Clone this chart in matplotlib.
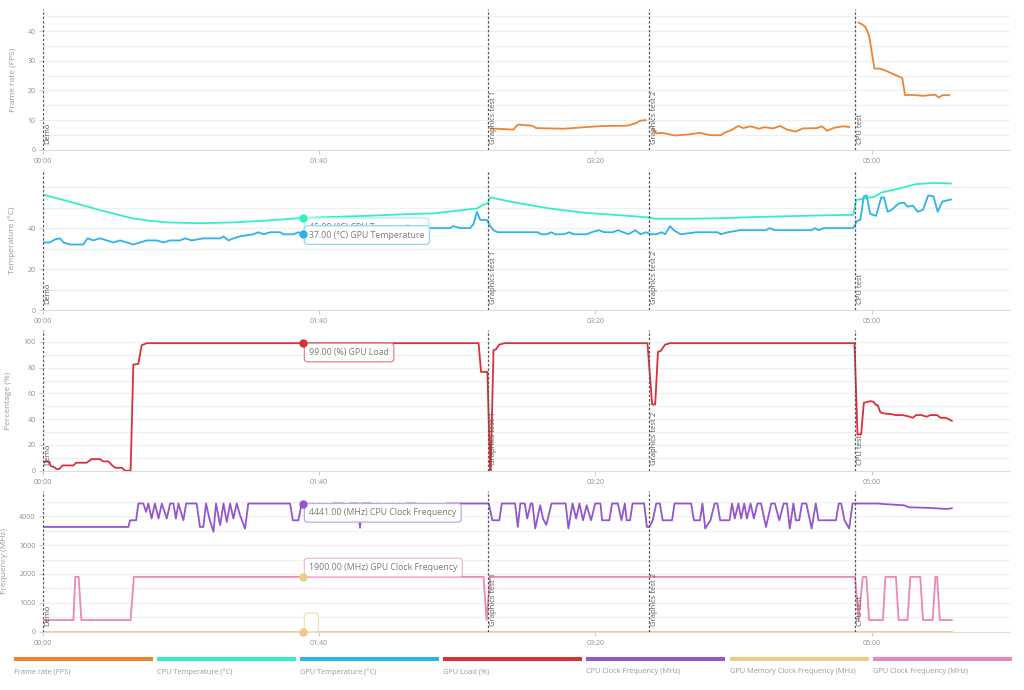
import numpy as np
import matplotlib.pyplot as plt
from matplotlib.ticker import FixedLocator, MultipleLocator, FuncFormatter
from matplotlib.transforms import offset_copy

plt.rcParams['font.family'] = ['Open Sans', 'DejaVu Sans']

# benchmark sections (seconds from start)
event_names = ["Demo", "Graphics test 1", "Graphics test 2", "CPU test"]
event_times = [0, 161.0, 219.4, 293.9]

# frame rate is only logged during the tests
fps_gt1_t = [162.1, 170.3, 171.9, 177.2, 178.5, 188.6, 196.1, 202.4, 211.3, 214.4, 216.3, 218.2]
fps_gt1 = [7.2, 6.8, 8.5, 8.1, 7.3, 7.1, 7.6, 8.0, 8.1, 8.9, 9.8, 10.0]
fps_gt2_t = [220.7, 222.0, 223.9, 228.9, 234.0, 237.8, 241.5, 245.4, 246.6, 249.1, 251.6, 253.5, 256.0,
             259.2, 261.1, 264.3, 266.8, 269.3, 272.5, 275.0, 280.1, 282.0, 283.8, 286.4, 289.5, 291.8]
fps_gt2 = [7.2, 5.5, 5.7, 4.8, 5.2, 5.7, 4.9, 4.9, 5.7, 6.6, 8.0, 7.3, 7.9,
           7.1, 7.6, 7.2, 8.0, 6.8, 6.1, 7.2, 7.3, 7.9, 6.4, 7.4, 7.9, 7.7]
fps_cpu_t = [295.2, 296.5, 297.7, 299.0, 300.9, 302.8, 304.7, 311.0, 312.0, 314.8, 318.5, 322.9, 324.2, 325.5, 328.0]
fps_cpu = [42.9, 42.3, 41.4, 38.6, 27.4, 27.4, 26.8, 24.2, 18.4, 18.5, 18.2, 18.6, 17.6, 18.4, 18.4]

cpu_temp_t = [0, 8.7, 14.7, 20.7, 26.8, 32.8, 38.8, 44.9, 56.9, 69.0, 81.1, 94.3, 105.2, 117.3, 129.3,
              141.4, 153.5, 157.1, 159.5, 161.0, 161.9, 170.9, 183.5, 196.1, 208.8, 219.5, 221.4, 234.0,
              246.6, 259.2, 271.8, 284.5, 293.3, 294.3, 297.1, 300.9, 303.4, 309.7, 316.0, 322.3, 328.6]
cpu_temp = [56.4, 53.3, 51.1, 48.8, 46.7, 44.7, 43.6, 42.8, 42.4, 42.8, 43.7, 45.0, 45.5, 46.0, 46.7,
            47.2, 49.1, 49.6, 51.5, 52.0, 55.0, 52.5, 49.6, 47.5, 46.3, 45.2, 44.6, 44.6,
            44.9, 45.5, 45.9, 46.3, 46.5, 53.7, 54.5, 55.3, 57.4, 59.3, 61.5, 62.1, 61.8]

gpu_temp_t = [0, 2.6, 4.5, 6.3, 7.5, 9.9, 14.7, 16.2, 18.3, 20.7, 23.2, 25.6, 28.0, 30.4, 32.8, 35.2,
              37.6, 41.3, 43.7, 46.1, 49.7, 51.5, 53.9, 58.1, 64.2, 65.4, 67.2, 69.0, 71.4, 76.2, 78.0,
              79.9, 82.3, 85.9, 87.1, 90.7, 92.5, 94.3, 100, 112, 120, 132, 138, 147.4, 148.6, 151.0,
              154.6, 155.9, 157.1, 158.3, 160.7, 161.9, 163.1, 164.6, 179.1, 180.4, 182.3, 184.1, 185.4,
              188.6, 190.4, 192.3, 196.8, 198.6, 201.2, 203.1, 206.2, 208.1, 210.0, 211.9, 214.4, 216.3,
              218.2, 220.1, 222.0, 223.9, 225.2, 227.0, 228.3, 230.8, 236.5, 244.1, 245.3, 247.9, 252.3,
              261.7, 263.0, 264.9, 278.2, 279.4, 280.7, 282.6, 293.3, 294.6, 295.8, 297.1, 298.1, 299.4,
              301.5, 303.4, 304.4, 305.7, 307.2, 309.7, 311.6, 312.9, 314.8, 316.6, 318.5, 320.4, 322.3,
              323.8, 325.5, 328.6]
gpu_temp = [33, 33, 34.5, 35, 33, 32, 32, 35, 34, 35, 34, 33, 34, 33, 32, 33,
            34, 34, 33, 34, 34, 35, 34, 35, 35, 36, 34, 35, 36, 37, 38,
            37, 38, 38, 37, 37, 38, 37, 38, 38, 39, 39, 40, 40, 41, 40,
            40, 42, 48, 44, 44, 41, 39, 38, 38, 37, 37, 38, 37,
            37, 38, 37, 37, 38, 39, 38, 38, 39, 38, 37, 39, 37,
            38, 37, 37, 38, 37, 41, 39, 37, 38, 38, 37, 38, 39,
            39, 40, 39, 39, 40, 39, 40, 40, 43.5, 44, 55.5, 56, 47,
            46, 55, 55, 48, 49, 52, 52.5, 50.5, 51, 48, 49, 56, 55.5,
            48, 53, 54]

gpu_load_t = [0, 1.4, 2.4, 2.9, 3.9, 5.1, 6.0, 7.2, 11.1, 12.1, 15.9, 17.7, 20.7, 21.9, 23.8, 25.0,
              26.2, 28.6, 29.8, 31.8, 32.8, 34.6, 35.8, 37.6, 157.7, 158.6, 160.9, 161.9, 162.1, 163.1,
              164.0, 165.2, 167.1, 218.8, 220.5, 221.6, 222.6, 223.6, 225.2, 227.0, 293.7, 294.8, 296.1,
              297.1, 299.4, 300.6, 301.5, 302.1, 303.1, 304.6, 307.2, 308.4, 311.0, 312.9, 314.8, 316.0,
              317.9, 319.8, 321.1, 323.6, 324.8, 326.7, 328.9]
gpu_load = [7, 7, 7, 3.6, 3.1, 1.3, 1.3, 4.1, 4.1, 6.2, 6.2, 9, 9, 7.2, 7.2, 4.4,
            2.3, 2.3, 0, 0, 82.4, 82.9, 97.4, 99, 99, 76.7, 76.7, 0, 0, 93.5,
            94.3, 97.9, 99, 99, 51.4, 51.4, 92.2, 93, 97.9, 99, 99, 28.2, 28.2,
            52.7, 54.0, 53.5, 50.9, 50.9, 45.2, 44.4, 43.9, 43.2, 43.2, 42.4, 41.1, 43.2,
            43.2, 41.9, 43.2, 43.2, 41.1, 41.1, 38.8]

cpu_clock_t = [0, 31.0, 31.6, 33.8, 34.6, 36.4, 37.4, 38.2, 39.4, 40.6, 41.9, 43.1, 44.9, 46.1, 47.3,
               48.2, 49.1, 50.9, 51.9, 55.7, 56.9, 58.1, 59.1, 60.3, 61.8, 62.7, 64.2, 65.4, 66.6,
               67.8, 69.0, 70.2, 71.4, 73.2, 74.4, 89.5, 90.5, 92.5, 93.7,
               95.5, 96.5, 97.5, 99.0, 100.0, 101.5, 102.5, 104.0, 105.0, 109.0, 110.0, 111.0, 114.0,
               114.8, 115.6, 119.0, 120.0, 121.0, 123.0, 124.0, 125.5, 126.5, 128.0, 129.0, 130.5,
               131.5, 135.0, 136.0, 137.0, 139.0, 140.0, 142.0, 143.0, 145.0, 146.0, 151.4,
               161.4, 162.7, 165.2, 166.1, 170.9, 171.9, 172.8, 174.4, 175.3, 176.6, 177.2, 178.2,
               180.0, 181.0, 182.2, 184.1, 189.2, 190.2, 191.7, 193.0, 194.2, 195.5, 196.8, 198.4,
               199.9, 201.8, 202.4, 205.0, 206.0, 208.1, 209.4, 210.6, 211.3, 212.5, 213.4, 217.6,
               218.6, 219.5, 220.7, 222.0, 223.3, 224.3, 227.7, 228.6, 234.6, 235.6, 237.8, 238.7,
               239.7, 241.6, 243.1, 244.1, 245.1, 248.5, 249.4, 250.4, 251.7, 252.7, 253.8, 254.8,
               256.1, 257.3, 258.6, 259.9, 261.7, 263.6, 264.9, 266.5, 268.1, 269.3, 270.3, 271.6,
               272.5, 273.7, 274.7, 276.3, 278.2, 279.7, 280.7, 287.0, 288.0, 288.9, 290.1, 291.8,
               293.0, 302.1, 304.6, 311.6, 313.5, 321.1, 324.8, 327.4, 328.9]
cpu_clock = [3630, 3630, 3860, 3860, 4441, 4441, 4150, 4441, 3920, 4441, 3920, 4441, 3920, 4441, 4441,
             3920, 4441, 3860, 4441, 4441, 3630, 3630, 4441, 3920, 3460, 4441, 3690, 4441, 3800,
             4441, 3920, 4441, 4035, 3570, 4441, 4441, 3860, 3860, 4441,
             4441, 3860, 4441, 3860, 4441, 3860, 4441, 3860, 4441, 4441, 3860, 4441, 4441,
             3600, 4441, 4441, 3860, 4441, 3860, 4441, 3860, 4441, 3860, 4441, 3860,
             4441, 4441, 3860, 4441, 3860, 4441, 3860, 4441, 3860, 4441, 4441,
             4441, 3860, 3860, 4441, 4441, 3630, 4441, 4441, 3920, 4441, 4441, 3574,
             4380, 3920, 3700, 4441, 4441, 3574, 4441, 3920, 4441, 3860, 4380, 3860,
             4441, 4441, 3860, 3860, 4441, 4441, 3860, 4441, 3860, 3860, 4441, 4441,
             3630, 3630, 3860, 4441, 4441, 3860, 3860, 4441, 4441, 3860, 3860, 4441,
             3574, 3860, 4441, 4441, 3860, 3860, 4441, 3920, 4441, 3920, 4441, 3920,
             4441, 3920, 4441, 4441, 3630, 4441, 4441, 3860, 4441, 4441, 3574, 4441,
             3860, 3860, 4441, 4441, 3574, 4441, 3860, 3860, 4441, 4441, 3860, 3574,
             4441, 4441, 4420, 4380, 4311, 4288, 4265, 4254, 4275]

gpu_mem_t = [0, 328.9]
gpu_mem = [0, 0]

gpu_clock_t = [0, 11.1, 11.8, 13.0, 14.0, 31.8, 33.0, 159.5, 160.6, 161.9, 293.9, 295.2, 296.7, 298.0,
               299.0, 304.0, 304.9, 308.7, 309.7, 312.9, 313.9, 317.5, 318.5, 322.0, 323.0, 323.6,
               324.6, 328.9]
gpu_clock = [403, 403, 1900, 1900, 403, 403, 1900, 1900, 403, 1900, 1900, 403, 1900, 1900,
             403, 403, 1900, 1900, 403, 403, 1900, 1900, 403, 403, 1900, 1900,
             403, 403]

# hover position of the tooltips
hover_t = 94.3

legend_labels = ["Frame rate (FPS)", "CPU Temperature (°C)", "GPU Temperature (°C)", "GPU Load (%)",
                 "CPU Clock Frequency (MHz)", "GPU Memory Clock Frequency (MHz)", "GPU Clock Frequency (MHz)"]
colors = ["#f0832f", "#33eec6", "#2db3ee", "#d7313a", "#9456d0", "#efca86", "#ee87b4"]

fig = plt.figure(figsize=(10.24, 6.9), dpi=100)
left, width, height = 0.0417, 0.9447, 0.2035
bottoms = [0.783, 0.5507, 0.3178, 0.0845]
axes = [fig.add_axes([left, b, width, height]) for b in bottoms]


def mmss(v, pos):
    v = int(round(v))
    return f"{v // 60:02d}:{v % 60:02d}"


def style_panel(ax, ylabel, ymax, major, minor):
    ax.set_xlim(0, 350)
    ax.set_ylim(0, ymax)
    ax.yaxis.set_major_locator(FixedLocator(major))
    ax.yaxis.set_minor_locator(MultipleLocator(minor))
    ax.grid(which='both', axis='y', color='#efefef', lw=0.8)
    ax.set_axisbelow(True)
    for s in ['top', 'right', 'left']:
        ax.spines[s].set_visible(False)
    ax.spines['bottom'].set_color('#dddddd')
    ax.tick_params(axis='y', which='major', length=3, color='#cccccc', labelsize=5,
                   labelcolor='#8f8f8f', pad=2)
    ax.tick_params(axis='y', which='minor', length=0)
    ax.set_xticks([0, 100, 200, 300])
    ax.xaxis.set_major_formatter(FuncFormatter(mmss))
    ax.tick_params(axis='x', length=3, color='#cccccc', labelsize=5, labelcolor='#8f8f8f', pad=3)
    ax.set_ylabel(ylabel, fontsize=6, color='#999999', labelpad=8)
    for name, t in zip(event_names, event_times):
        ax.axvline(t, color='#555555', lw=0.9, ls=(0, (2, 1.5)), zorder=4)
        tr = offset_copy(ax.get_xaxis_transform(), fig=fig, x=2, y=6, units='dots')
        ax.text(t, 0, name, transform=tr, rotation=90, ha='left', va='bottom',
                fontsize=5.5, color='#555555', zorder=4)


def tooltip(ax, t, v, text, edge, dy, va='top'):
    # dy: pixel offset from the hovered point to the box edge
    pad = 4.8
    off_y = dy - pad if va == 'top' else dy + pad
    ax.annotate(text, xy=(t, v), xytext=(pad + 1, off_y), textcoords='offset pixels',
                ha='left', va=va, fontsize=6.3, color='#7a7a7a', zorder=7,
                bbox=dict(boxstyle='round,pad=0.55,rounding_size=0.35', fc='white', ec=edge, lw=0.9))


def series(ts, vs):
    return np.array(ts, float), np.array(vs, float)


# panel 1: frame rate
ax = axes[0]
for ts, vs in [(fps_gt1_t, fps_gt1), (fps_gt2_t, fps_gt2), (fps_cpu_t, fps_cpu)]:
    ax.plot(*series(ts, vs), color=colors[0], lw=1.3, zorder=3)
style_panel(ax, "Frame rate (FPS)", 47.4, [0, 10, 20, 30, 40], 5)

# panel 2: temperatures
ax = axes[1]
ax.plot(*series(cpu_temp_t, cpu_temp), color=colors[1], lw=1.3, zorder=3)
ax.plot(*series(gpu_temp_t, gpu_temp), color=colors[2], lw=1.3, zorder=3)
style_panel(ax, "Temperature (°C)", 68.6, [0, 20, 40], 10)
cpu_hover = np.interp(hover_t, cpu_temp_t, cpu_temp)
gpu_hover = np.interp(hover_t, gpu_temp_t, gpu_temp)
tooltip(ax, hover_t, cpu_hover, f"{cpu_hover:.2f} (°C) CPU Temperature", '#a8f3e2', 0)
tooltip(ax, hover_t, gpu_hover, f"{gpu_hover:.2f} (°C) GPU Temperature", '#93d5f5', 8.5)
ax.plot([hover_t], [cpu_hover], 'o', ms=5, color=colors[1], zorder=8)
ax.plot([hover_t], [gpu_hover], 'o', ms=5, color=colors[2], zorder=8)

# panel 3: GPU load
ax = axes[2]
ax.plot(*series(gpu_load_t, gpu_load), color=colors[3], lw=1.3, zorder=3)
style_panel(ax, "Percentage (%)", 109, [0, 20, 40, 60, 80, 100], 10)
load_hover = np.interp(hover_t, gpu_load_t, gpu_load)
tooltip(ax, hover_t, load_hover, f"{load_hover:.2f} (%) GPU Load", '#e3868b', 0)
ax.plot([hover_t], [load_hover], 'o', ms=5, color=colors[3], zorder=8)

# panel 4: clock frequencies
ax = axes[3]
ax.plot(*series(cpu_clock_t, cpu_clock), color=colors[4], lw=1.3, zorder=3)
ax.plot(*series(gpu_mem_t, gpu_mem), color=colors[5], lw=1.3, zorder=3)
ax.plot(*series(gpu_clock_t, gpu_clock), color=colors[6], lw=1.3, zorder=3)
style_panel(ax, "Frequency (MHz)", 4865, [0, 1000, 2000, 3000, 4000], 500)
cpuc_hover = np.interp(hover_t, cpu_clock_t, cpu_clock)
gpuc_hover = np.interp(hover_t, gpu_clock_t, gpu_clock)
mem_hover = np.interp(hover_t, gpu_mem_t, gpu_mem)
tooltip(ax, hover_t, cpuc_hover, f"{cpuc_hover:.2f} (MHz) CPU Clock Frequency", '#c3a6e6', 0)
tooltip(ax, hover_t, gpuc_hover, f"{gpuc_hover:.2f} (MHz) GPU Clock Frequency", '#f4b8d2', 0, va='bottom')
tooltip(ax, hover_t, mem_hover, "  ", '#f3ddb2', 0, va='bottom')
ax.plot([hover_t], [cpuc_hover], 'o', ms=5, color=colors[4], zorder=8)
ax.plot([hover_t], [gpuc_hover], 'o', ms=5, color=colors[5], zorder=8)
ax.plot([hover_t], [mem_hover], 'o', ms=5, color=colors[5], zorder=8, clip_on=False)

# legend: coloured bars with the label underneath
slot = 0.13975
bar = 0.1357
x0 = 0.0137
for i, (lab, c) in enumerate(zip(legend_labels, colors)):
    xs = x0 + i * slot
    fig.add_artist(plt.Line2D([xs, xs + bar], [0.0445, 0.0445], transform=fig.transFigure,
                              color=c, lw=2.9, solid_capstyle='butt'))
    fig.text(xs, 0.0265, lab, fontsize=5.3, color='#999999', va='center', ha='left')

fig.savefig("out.png", dpi=100)
